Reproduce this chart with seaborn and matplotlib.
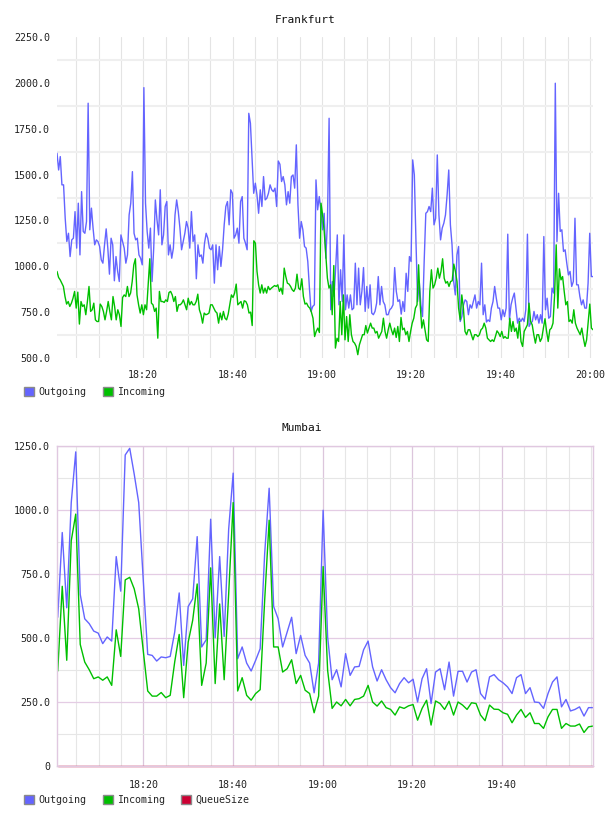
import numpy as np
import pandas as pd
import matplotlib
matplotlib.use("Agg")
import matplotlib.pyplot as plt
import matplotlib.dates as mdates
from matplotlib.patches import Patch
from matplotlib.ticker import FixedLocator, FixedFormatter
import seaborn as sns

# ---------------- data ----------------
series_names = ["Outgoing", "Incoming", "QueueSize"]
series_colors = ["#6464ff", "#00c000", "#cc0033"]

frankfurt_outgoing = [
    1616, 1525, 1598, 1444, 1444, 1262, 1135, 1180, 1053, 1144,
    1153, 1298, 1099, 1344, 1062, 1407, 1190, 1180, 1244, 1889,
    1199, 1317, 1208, 1117, 1144, 1135, 1108, 1035, 1017, 1117,
    1204, 1099, 957, 1153, 1117, 921, 1053, 972, 917, 1171,
    1135, 1099, 1017, 1062, 1280, 1344, 1516, 1180, 1144, 1153,
    1062, 1044, 1008, 1974, 1344, 1190, 1099, 1208, 917, 1099,
    1362, 1253, 1171, 1417, 1117, 1171, 1326, 1353, 1062, 1117,
    1044, 1099, 1280, 1362, 1298, 1208, 1090, 1135, 1180, 1244,
    1208, 1099, 1298, 1135, 1171, 932, 1117, 1053, 1062, 1017,
    1126, 1180, 1153, 1099, 1090, 1117, 908, 1117, 981, 1108,
    999, 1090, 1226, 1326, 1353, 1226, 1417, 1398, 1153,
    1171, 1208, 1126, 1353, 1380, 1153, 1126, 1090, 1834, 1780,
    1589, 1398, 1453, 1389, 1289, 1417, 1326, 1489, 1362, 1371,
    1398, 1444, 1417, 1407, 1426, 1326, 1574, 1556, 1462, 1489,
    1444, 1335, 1407, 1344, 1489, 1498, 1426, 1662, 1335, 1153,
    1244, 1199, 1108, 1099, 1026, 881, 754, 781, 790, 1471,
    1308, 1380, 1308, 1199, 1289, 1044, 1244, 1807, 763, 917,
    835, 990, 1171, 790, 981, 808, 1171, 763, 844, 772,
    844, 763, 772, 1017, 790, 990, 790, 863, 993, 754,
    890, 772, 899, 745, 736, 754, 799, 944, 790, 890,
    808, 790, 736, 736, 763, 772, 790, 993, 863, 808,
    817, 739, 808, 754, 962, 863, 1053, 1026, 1580, 1498,
    1135,
    808, 917, 790, 726, 1026, 1289, 1298, 1326, 1298, 1426,
    1226, 1262, 1607, 1280, 1144, 1208, 1235, 1280, 1389, 1525,
    1226, 1117, 917, 844, 1062, 1108, 699, 726, 790, 817,
    808, 736, 790, 772, 808, 844, 772, 808, 790, 1017,
    736, 790, 696, 708, 699, 772, 808, 890, 826, 772,
    772, 708, 763, 726, 772, 1175, 708, 790, 826, 854,
    772, 690, 717, 699, 717, 699, 763, 1175, 672, 690,
    699, 754, 708, 736, 690, 736, 690, 1162, 763, 826,
    717, 726, 881, 854, 1998, 1135, 1398, 1190, 1199, 1081,
    1090, 1017, 953, 972, 890, 917, 1262, 899, 899, 835,
    790, 817, 772, 772, 908, 1180, 944, 944,
]

frankfurt_incoming = [
    972, 939, 926, 908, 890, 835, 794, 808, 781, 799,
    826, 863, 772, 859, 685, 808, 781, 790, 736, 808,
    890, 754, 763, 799, 708, 699, 699, 794, 781, 754,
    708, 754, 808, 754, 708, 835, 781, 708, 763, 736,
    672, 830, 844, 835, 890, 835, 854, 917, 1008, 1041,
    844, 790, 745, 790, 736, 790, 763, 899, 1041, 799,
    790, 754, 772, 608, 863, 808, 808, 803, 817, 808,
    857, 863, 844, 808, 835, 754, 790, 790, 799, 817,
    790, 763, 826, 790, 808, 790, 790, 808, 848, 763,
    736, 690, 745, 736, 739, 745, 790, 790, 772, 754,
    745, 690, 745, 708, 754, 717, 708, 739, 790, 844,
    830, 854, 903, 790,
    799, 808, 772, 812, 808, 790, 745, 750, 677, 1139,
    1126, 972, 899, 854, 899, 854, 881, 854, 890, 872,
    881, 888, 895, 890, 899, 863, 881, 848, 990, 944,
    908, 903, 890, 872, 863, 881, 957, 881, 872, 932,
    835, 794, 799, 781, 772, 750, 717, 617, 645, 663,
    639, 1344, 1280, 1190, 1062, 935, 881, 899, 736, 1004,
    554, 608, 590, 808, 627, 844, 599, 726, 590, 736,
    627, 590, 581, 563, 518, 572, 599, 627, 627, 677,
    636, 663, 690, 663, 663, 636, 645, 608, 627, 645,
    717, 645, 608, 654, 690, 654, 627, 663, 612, 672,
    590, 721, 654, 663, 627, 645, 590, 645, 690, 717,
    772, 790, 1008, 790, 663,
    708, 654, 599, 590, 863, 981, 881, 899, 935, 990,
    935, 972, 1041, 935, 908, 917, 890, 917, 921, 1012,
    972, 917, 772, 708, 844, 772, 645, 627, 654, 654,
    627, 599, 627, 627, 617, 627, 654, 663, 690, 663,
    608, 599, 590, 599, 590, 617, 648, 636, 617, 645,
    608, 617, 608, 608, 717, 645, 699, 645, 663, 608,
    699, 590, 563, 645, 663, 681, 799, 699, 681, 627,
    581, 627, 627, 590, 608, 663, 714, 645, 590, 654,
    663, 690, 844, 1117, 772, 986, 926, 944, 863, 790,
    808, 699, 708, 690, 763, 690, 663, 645, 627, 663,
    608, 563, 599, 699, 794, 663, 654,
]

mumbai_outgoing = [
    581, 912, 618, 1029, 1227, 670, 575, 556, 527, 519,
    478, 504, 488, 818, 683, 1215, 1241, 1140, 1029, 730,
    436, 432, 410, 426, 423, 428, 523, 676, 393, 623,
    653, 896, 465, 493, 964, 501, 818, 506, 925, 1144,
    419, 465, 402, 371, 413, 458, 828, 1085, 623, 575,
    465, 523, 581, 439, 510, 432, 402, 286, 402, 999,
    504, 337, 376, 309, 439, 354, 387, 389, 454, 488,
    387, 332, 376, 337, 306, 286, 322, 345, 325, 339,
    250, 341, 380, 244, 367, 380, 298, 406, 273, 370,
    370, 328, 367, 376, 283, 261, 348, 357, 337, 325,
    309, 283, 345, 357, 283, 306, 250, 248, 225, 283,
    328, 348, 231, 260, 215, 221, 231, 195, 228, 228,
]

mumbai_incoming = [
    371, 702, 413, 880, 984, 475, 406, 376, 341, 348,
    335, 348, 315, 532, 428, 727, 737, 692, 614, 452,
    293, 273, 273, 287, 267, 276, 406, 514, 267, 484,
    569, 711, 315, 402, 774, 322, 633, 337, 672, 1029,
    293, 345, 276, 257, 283, 298, 646, 960, 465, 465,
    367, 380, 415, 322, 354, 296, 283, 208, 273, 779,
    374, 225, 250, 235, 260, 235, 260, 263, 273, 315,
    250, 234, 254, 228, 221, 199, 231, 225, 235, 240,
    179, 225, 257, 160, 254, 244, 221, 253, 199, 250,
    238, 221, 247, 244, 199, 177, 238, 222, 221, 208,
    202, 169, 199, 221, 190, 208, 166, 166, 147, 192,
    221, 221, 147, 166, 156, 156, 164, 131, 153, 156,
]

mumbai_queue = [
    0, 0, 0, 0, 0, 0, 0, 0, 0, 0, 0, 0, 0, 0, 0, 0, 0, 0, 0, 0,
    0, 0, 0, 0, 0, 0, 0, 0, 0, 0, 0, 0, 0, 0, 0, 0, 0, 0, 0, 0,
    0, 0, 0, 0, 0, 0, 0, 0, 0, 0, 0, 0, 0, 0, 0, 0, 0, 0, 0, 0,
    0, 0, 0, 0, 0, 0, 0, 0, 0, 0, 0, 0, 0, 0, 0, 0, 0, 0, 0, 0,
    0, 0, 0, 0, 0, 0, 0, 0, 0, 0, 0, 0, 0, 0, 0, 0, 0, 0, 0, 0,
    0, 0, 0, 0, 0, 0, 0, 0, 0, 0, 0, 0, 0, 0, 0, 0, 0, 0, 0, 0,
]

top_yticks = [500, 750, 1000, 1250, 1500, 1750, 2000, 2250]
top_ytick_labels = ["500.0", "750.0", "1000.0", "1250.0", "1500.0", "1750.0", "2000.0", "2250.0"]
bot_yticks = [0, 250, 500, 750, 1000, 1250]
bot_ytick_labels = ["0", "250.0", "500.0", "750.0", "1000.0", "1250.0"]
top_xtick_labels = ["18:20", "18:40", "19:00", "19:20", "19:40", "20:00"]
bot_xtick_labels = ["18:20", "18:40", "19:00", "19:20", "19:40"]

day = "2024-01-01 "
t_start = pd.Timestamp(day + "18:00:42")
t_end = pd.Timestamp(day + "20:00:42")
b_start = pd.Timestamp(day + "18:00:52")
b_end = pd.Timestamp(day + "20:00:24")


def long_frame(pairs, start, end):
    parts = []
    for name, vals in pairs:
        times = pd.date_range(start, end, periods=len(vals))
        parts.append(pd.DataFrame({"time": times, "value": vals, "series": name}))
    return pd.concat(parts, ignore_index=True)


df_top = long_frame([("Outgoing", frankfurt_outgoing), ("Incoming", frankfurt_incoming)], t_start, t_end)
df_bot = long_frame([("Outgoing", mumbai_outgoing), ("Incoming", mumbai_incoming),
                     ("QueueSize", mumbai_queue)], b_start, b_end)

# ---------------- style ----------------
sns.set_theme(style="white")
plt.rcParams["font.family"] = ["DejaVu Sans Mono", "DejaVu Sans"]
palette = dict(zip(series_names, series_colors))
FS = 7.2

fig = plt.figure(figsize=(6.08, 8.16), dpi=100)
ax1 = fig.add_axes([57 / 608, 1 - 358 / 816, 536 / 608, 321 / 816])
ax2 = fig.add_axes([57 / 608, 1 - 766 / 816, 536 / 608, 320 / 816])

sns.lineplot(data=df_top, x="time", y="value", hue="series", hue_order=["Outgoing", "Incoming"],
             palette=palette, estimator=None, legend=False, linewidth=1.0, ax=ax1)
sns.lineplot(data=df_bot, x="time", y="value", hue="series", hue_order=series_names,
             palette=palette, estimator=None, legend=False, linewidth=1.0, ax=ax2)
for ln in ax2.lines:
    ln.set_clip_on(False)

def tick_times(labels):
    return [mdates.date2num(pd.Timestamp(day + s)) for s in labels]

minor5 = mdates.MinuteLocator(byminute=range(0, 60, 5))

# top chart
ax1.set_xlim(t_start, t_end)
ax1.set_ylim(top_yticks[0], top_yticks[-1])
ax1.xaxis.set_major_locator(FixedLocator(tick_times(top_xtick_labels)))
ax1.xaxis.set_major_formatter(FixedFormatter(top_xtick_labels))
ax1.xaxis.set_minor_locator(minor5)
ax1.yaxis.set_major_locator(FixedLocator(top_yticks))
ax1.yaxis.set_major_formatter(FixedFormatter(top_ytick_labels))
ax1.yaxis.set_minor_locator(FixedLocator([v + 125 for v in top_yticks[:-1]]))
ax1.grid(False)
ax1.xaxis.grid(True, which="both", color="#e4e4e4", linewidth=0.8)
ax1.yaxis.grid(True, which="minor", color="#efefef", linewidth=1.5)
for s in ax1.spines.values():
    s.set_visible(False)
ax1.tick_params(axis="both", which="both", length=0, labelsize=FS, colors="#222222")
ax1.tick_params(axis="x", pad=9)
ax1.tick_params(axis="y", pad=5)
ax1.set_xlabel("")
ax1.set_ylabel("")
ax1.set_axisbelow(True)

# bottom chart
ax2.set_xlim(b_start - pd.Timedelta(seconds=10), b_end)
ax2.set_ylim(bot_yticks[0], bot_yticks[-1])
ax2.xaxis.set_major_locator(FixedLocator(tick_times(bot_xtick_labels)))
ax2.xaxis.set_major_formatter(FixedFormatter(bot_xtick_labels))
ax2.xaxis.set_minor_locator(minor5)
ax2.yaxis.set_major_locator(FixedLocator(bot_yticks))
ax2.yaxis.set_major_formatter(FixedFormatter(bot_ytick_labels))
ax2.yaxis.set_minor_locator(FixedLocator([v + 125 for v in bot_yticks[:-1]]))
ax2.grid(False)
ax2.xaxis.grid(True, which="minor", color="#e6e6e6", linewidth=0.8)
ax2.yaxis.grid(True, which="minor", color="#e6e6e6", linewidth=0.8)
ax2.xaxis.grid(True, which="major", color="#dcc6dc", linewidth=0.9)
ax2.yaxis.grid(True, which="major", color="#e4cce4", linewidth=0.9)
for s in ax2.spines.values():
    s.set_color("#e0c8e0")
    s.set_linewidth(1.0)
ax2.tick_params(axis="both", which="both", length=0, labelsize=FS, colors="#222222")
ax2.tick_params(axis="x", pad=10)
ax2.tick_params(axis="y", pad=5)
ax2.set_xlabel("")
ax2.set_ylabel("")
ax2.set_axisbelow(True)

# titles
fig.text(305 / 608, 1 - 20 / 816, "Frankfurt", ha="center", va="center", fontsize=8, color="#111111")
fig.text(302 / 608, 1 - 428 / 816, "Mumbai", ha="center", va="center", fontsize=8, color="#111111")

# legends
def make_legend(names, y):
    handles = [Patch(facecolor=palette[n], edgecolor="#8a8a8a", linewidth=1.0, label=n) for n in names]
    fig.legend(handles=handles, loc="center left", bbox_to_anchor=(24 / 608, 1 - y / 816),
               ncol=len(names), frameon=False, fontsize=FS, handlelength=1.0, handleheight=1.0,
               handletextpad=0.45, columnspacing=1.6, borderpad=0, borderaxespad=0)

make_legend(["Outgoing", "Incoming"], 392)
make_legend(series_names, 800)

fig.savefig("out.png", dpi=100)
